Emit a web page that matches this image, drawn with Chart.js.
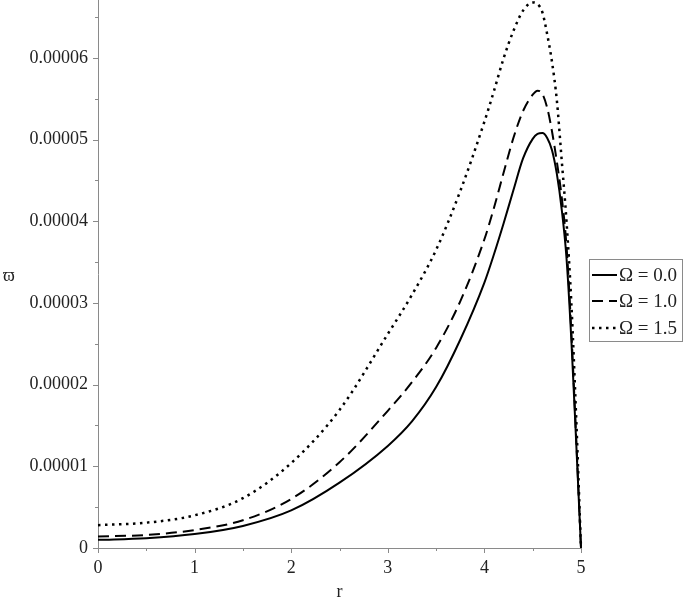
<!DOCTYPE html>
<html>
<head>
<meta charset="utf-8">
<script src="https://cdn.jsdelivr.net/npm/chart.js@4"></script>
<style>
  html, body { margin: 0; padding: 0; background: #fff; }
</style>
</head>
<body>
<canvas id="c" width="685" height="600"></canvas>
<script>
// --- data (omega values in units of 1e-5) ---
const rValues = [0, 0.5, 1, 1.5, 2, 2.5, 3, 3.25, 3.5, 3.75, 4, 4.1, 4.2, 4.3, 4.4, 4.5, 4.55, 4.6, 4.65, 4.7, 4.75, 4.8, 4.85, 4.9, 4.95, 5];
const omega00 = [0.10, 0.12, 0.17, 0.27, 0.46, 0.80, 1.25, 1.55, 1.97, 2.55, 3.25, 3.60, 3.98, 4.38, 4.77, 5.01, 5.07, 5.08, 5.02, 4.87, 4.58, 4.15, 3.55, 2.55, 1.30, 0];
const omega10 = [0.14, 0.16, 0.22, 0.34, 0.60, 1.05, 1.68, 2.03, 2.45, 3.02, 3.78, 4.17, 4.60, 5.02, 5.35, 5.55, 5.60, 5.56, 5.39, 5.10, 4.73, 4.30, 3.70, 2.65, 1.35, 0];
const omega15 = [0.28, 0.31, 0.40, 0.61, 1.04, 1.69, 2.62, 3.10, 3.65, 4.37, 5.22, 5.60, 6.00, 6.33, 6.58, 6.68, 6.66, 6.56, 6.29, 5.95, 5.48, 4.75, 4.00, 3.00, 1.60, 0];
const seriesLabels = ['Ω = 0.0', 'Ω = 1.0', 'Ω = 1.5'];

const xTicks = [0, 1, 2, 3, 4, 5];
const xMinorTicks = [0.5, 1.5, 2.5, 3.5, 4.5];
const yTicks = [0, 1, 2, 3, 4, 5, 6];
const yTickLabels = ['0', '0.00001', '0.00002', '0.00003', '0.00004', '0.00005', '0.00006'];
const yMinorTicks = [0.5, 1.5, 2.5, 3.5, 4.5, 5.5, 6.5];

const AXIS_COLOR = '#8a8a8a';
const FONT = "'Liberation Serif', 'Times New Roman', serif";

const toPoints = arr => arr.map((v, i) => ({ x: rValues[i], y: v }));

// === tikai, ašių pavadinimai, legenda ===
const extras = {
    id: 'extras',
    afterDraw(chart) {
        const ctx = chart.ctx;
        const xs = chart.scales.x, ys = chart.scales.y;
        const left = chart.chartArea.left, bottom = chart.chartArea.bottom;
        ctx.save();
        ctx.strokeStyle = AXIS_COLOR;
        ctx.lineWidth = 1;
        ctx.beginPath();
        yTicks.concat(yMinorTicks).forEach(v => {
            const y = Math.round(ys.getPixelForValue(v)) + 0.5;
            const len = yTicks.includes(v) ? 5 : 3;
            ctx.moveTo(left - len, y); ctx.lineTo(left, y);
        });
        xTicks.concat(xMinorTicks).forEach(v => {
            const x = Math.round(xs.getPixelForValue(v)) + 0.5;
            const len = xTicks.includes(v) ? 5 : 3;
            ctx.moveTo(x, bottom); ctx.lineTo(x, bottom + len);
        });
        ctx.stroke();

        // axis titles
        ctx.fillStyle = '#222';
        ctx.font = '18px ' + FONT;
        ctx.textAlign = 'center';
        ctx.textBaseline = 'alphabetic';
        ctx.fillText('r', xs.getPixelForValue(2.5), 597);
        ctx.textBaseline = 'middle';
        ctx.fillText('ϖ', 9, 276);

        // legend
        const bx = 589.5, by = 259.5, bw = 93, bh = 82;
        ctx.strokeStyle = AXIS_COLOR;
        ctx.strokeRect(bx, by, bw, bh);
        ctx.font = '19px ' + FONT;
        ctx.textAlign = 'left';
        const rows = [275, 301, 328];
        chart.data.datasets.forEach((ds, i) => {
            const y = rows[i];
            ctx.strokeStyle = '#000';
            ctx.lineWidth = ds.borderWidth;
            ctx.setLineDash(ds.borderDash || []);
            ctx.beginPath();
            ctx.moveTo(592, y); ctx.lineTo(617, y);
            ctx.stroke();
            ctx.setLineDash([]);
            ctx.fillStyle = '#222';
            ctx.fillText(ds.label, 619, y + 1);
        });
        ctx.restore();
    }
};

new Chart(document.getElementById('c'), {
    type: 'line',
    data: {
        datasets: [
            { label: seriesLabels[0], data: toPoints(omega00), borderColor: '#000', borderWidth: 2, borderDash: [] },
            { label: seriesLabels[1], data: toPoints(omega10), borderColor: '#000', borderWidth: 2, borderDash: [11, 6] },
            { label: seriesLabels[2], data: toPoints(omega15), borderColor: '#000', borderWidth: 2.5, borderDash: [2.5, 4.5] }
        ]
    },
    options: {
        responsive: false,
        animation: false,
        devicePixelRatio: 1,
        clip: false,
        layout: { padding: { left: 0, top: 0, right: 104, bottom: 0 } },
        elements: {
            point: { radius: 0 },
            line: { cubicInterpolationMode: 'monotone', fill: false }
        },
        plugins: { legend: { display: false }, tooltip: { enabled: false } },
        scales: {
            x: {
                type: 'linear', min: 0, max: 5,
                grid: { drawOnChartArea: false, drawTicks: false },
                border: { display: true, color: AXIS_COLOR, width: 1 },
                ticks: {
                    autoSkip: false, padding: 9, color: '#222',
                    font: { family: FONT, size: 18 },
                    callback: v => String(v)
                },
                afterBuildTicks: s => { s.ticks = xTicks.map(v => ({ value: v })); },
                afterFit: s => { s.height = 52; s.paddingLeft = 0; s.paddingRight = 0; }
            },
            y: {
                type: 'linear', min: 0, max: 6.71,
                grid: { drawOnChartArea: false, drawTicks: false },
                border: { display: true, color: AXIS_COLOR, width: 1 },
                ticks: {
                    autoSkip: false, padding: 10, color: '#222',
                    font: { family: FONT, size: 18 },
                    callback: (v, i) => yTickLabels[yTicks.indexOf(v)]
                },
                afterBuildTicks: s => { s.ticks = yTicks.map(v => ({ value: v })); },
                afterFit: s => { s.width = 98; s.paddingTop = 0; s.paddingBottom = 0; }
            }
        }
    },
    plugins: [extras]
});
</script>
</body>
</html>
